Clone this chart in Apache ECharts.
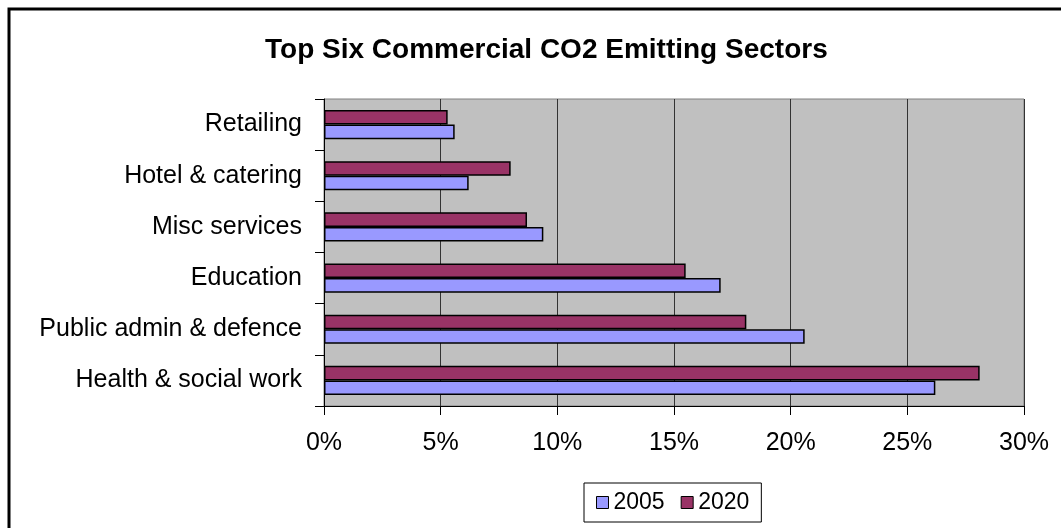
<!DOCTYPE html>
<html>
<head>
<meta charset="utf-8">
<script src="https://cdn.jsdelivr.net/npm/echarts@6/dist/echarts.min.js"></script>
<style>
  html, body { margin: 0; padding: 0; background: #fff; }
  #chart { width: 1061px; height: 528px; }
</style>
</head>
<body>
<div id="chart"></div>
<script>
// sectors, bottom to top
var sectors = ['Health & social work', 'Public admin & defence', 'Education', 'Misc services', 'Hotel & catering', 'Retailing'];
var share2005 = [26.2, 20.6, 17.0, 9.4, 6.2, 5.6];
var share2020 = [28.1, 18.1, 15.5, 8.7, 8.0, 5.3];

var font = 'Arial, "Liberation Sans", sans-serif';
var chart = echarts.init(document.getElementById('chart'), null, { renderer: 'canvas' });

chart.setOption({
  animation: false,
  title: {
    text: 'Top Six Commercial CO2 Emitting Sectors',
    left: 260,
    top: 31,
    textStyle: { fontFamily: font, fontSize: 28, fontWeight: 'bold', color: '#000' }
  },
  graphic: [{
    type: 'rect',
    shape: { x: 9, y: 9, width: 1200, height: 700 },
    style: { fill: 'none', stroke: '#000', lineWidth: 3 },
    silent: true
  }],
  legend: {
    data: ['2005', '2020'],
    left: 584,
    top: 483,
    padding: [8, 12, 8, 12],
    itemGap: 16,
    itemWidth: 12,
    itemHeight: 12,
    icon: 'rect',
    borderColor: '#000',
    borderWidth: 1,
    itemStyle: { borderColor: '#000', borderWidth: 1 },
    textStyle: { fontFamily: font, fontSize: 23, color: '#000' }
  },
  grid: {
    left: 324, right: 37, top: 99, bottom: 122,
    show: true,
    backgroundColor: '#C0C0C0',
    borderColor: '#808080',
    borderWidth: 1
  },
  xAxis: {
    type: 'value',
    min: 0,
    max: 30,
    interval: 5,
    axisLine: { show: true, lineStyle: { color: '#000', width: 1 } },
    axisTick: { show: true, length: 9, lineStyle: { color: '#000' } },
    axisLabel: {
      fontFamily: font, fontSize: 25, color: '#000', margin: 25,
      formatter: function (v) { return v + '%'; }
    },
    splitLine: { show: true, lineStyle: { color: '#333', width: 1 } }
  },
  yAxis: {
    type: 'category',
    data: sectors,
    axisLine: { show: true, lineStyle: { color: '#000', width: 1 } },
    axisTick: { show: true, length: 9, lineStyle: { color: '#000' } },
    axisLabel: { fontFamily: font, fontSize: 25, color: '#000', margin: 22 },
    splitLine: { show: false }
  },
  series: [
    {
      name: '2020',
      type: 'bar',
      data: share2020,
      barGap: '0%',
      barCategoryGap: '43%',
      itemStyle: { color: '#993366', borderColor: '#000', borderWidth: 1.5 }
    },
    {
      name: '2005',
      type: 'bar',
      data: share2005,
      barGap: '0%',
      barCategoryGap: '43%',
      itemStyle: { color: '#9999FF', borderColor: '#000', borderWidth: 1.5 }
    }
  ]
});
</script>
</body>
</html>
